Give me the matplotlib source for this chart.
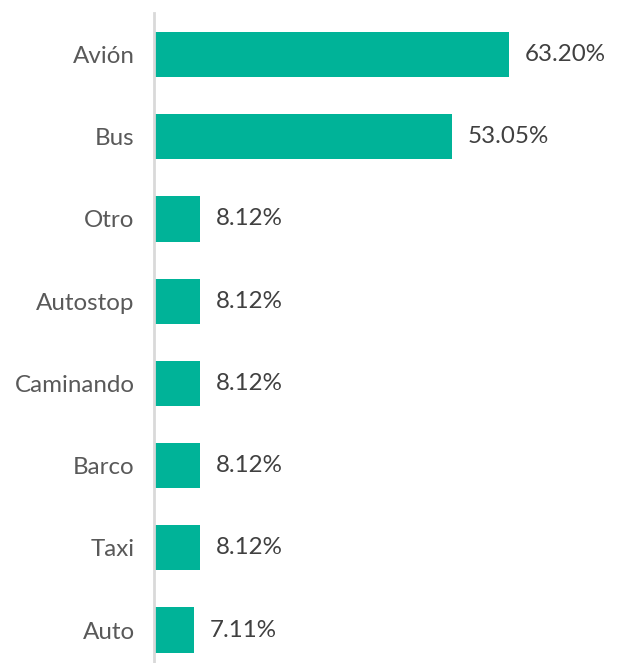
import matplotlib.pyplot as plt
from matplotlib.transforms import offset_copy

categories = ["Avión", "Bus", "Otro", "Autostop", "Caminando", "Barco", "Taxi", "Auto"]
values = [63.20, 53.05, 8.12, 8.12, 8.12, 8.12, 8.12, 7.11]

plt.rcParams['font.family'] = ['Lato', 'DejaVu Sans']

fig = plt.figure(figsize=(6.23, 6.63), dpi=100)
ax = fig.add_axes([154 / 623, 0, 469 / 623, 650 / 663])

pos = list(range(len(categories)))
ax.barh(pos, values, height=0.55, color='#00B398')

ax.set_xlim(0, 83.5)
ax.set_ylim(7.4, -0.505)
ax.set_yticks(pos)
ax.set_yticklabels(categories, fontsize=17.4, color='#595959')
ax.tick_params(axis='y', length=0, pad=14)
ax.set_xticks([])

for s in ['top', 'right', 'bottom']:
    ax.spines[s].set_visible(False)
ax.spines['left'].set_color('#d9d9d9')
ax.spines['left'].set_linewidth(2)

trans = offset_copy(ax.transData, fig=fig, x=16, y=0, units='dots')
for p, v in zip(pos, values):
    ax.text(v, p, f"{v:.2f}%", transform=trans, va='center', ha='left',
            fontsize=17.4, color='#404040')

fig.savefig('out.png', dpi=100)
